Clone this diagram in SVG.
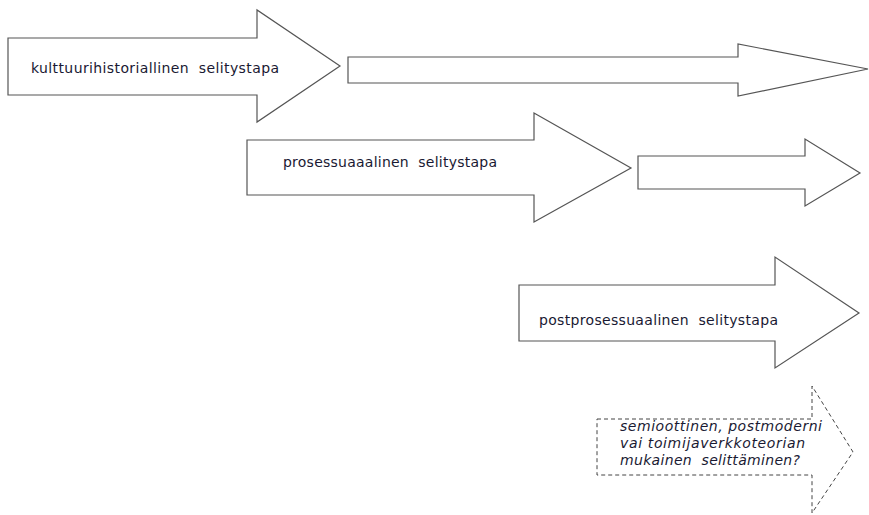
<svg xmlns="http://www.w3.org/2000/svg" width="869" height="515" viewBox="0 0 869 515">
<style>
.a{fill:#fff;stroke:#555;stroke-width:1.2;stroke-linejoin:miter}
.d{fill:#fff;stroke:#444;stroke-width:1;stroke-dasharray:4 3}
.t{font-family:"DejaVu Sans",Verdana,sans-serif;font-size:14px;fill:#1a1a33;white-space:pre}
.i{font-style:italic}
</style>
<rect width="869" height="515" fill="#fff"/>
<g id="arrow1">
<polygon class="a" points="8,38 257,38 257,10 340,66 257,122 257,95 8,95"/>
<text class="t" x="31" y="73" textLength="248" lengthAdjust="spacing" xml:space="preserve">kulttuurihistoriallinen  selitystapa</text>
</g>
<g id="arrow2">
<polygon class="a" points="348,57 738,57 738,44 868,69 738,96 738,83 348,83"/>
</g>
<g id="arrow3">
<polygon class="a" points="247,140 534,140 534,113 631,168 534,222 534,195 247,195"/>
<text class="t" x="283" y="167" textLength="214" lengthAdjust="spacing" xml:space="preserve">prosessuaaalinen  selitystapa</text>
</g>
<g id="arrow4">
<polygon class="a" points="638,156 805,156 805,139 860,173 805,206 805,189 638,189"/>
</g>
<g id="arrow5">
<polygon class="a" points="519,285 775,285 775,257 859,313 775,368 775,341 519,341"/>
<text class="t" x="539" y="325" textLength="239" lengthAdjust="spacing" xml:space="preserve">postprosessuaalinen  selitystapa</text>
</g>
<g id="arrow6">
<polygon class="d" points="597,419 812,419 812,386 853,452 812,513 812,475 597,475"/>
<text class="t i" x="620" y="431" textLength="202" lengthAdjust="spacing">semioottinen, postmoderni</text>
<text class="t i" x="620" y="448" textLength="185" lengthAdjust="spacing">vai toimijaverkkoteorian</text>
<text class="t i" x="620" y="465" textLength="180" lengthAdjust="spacing" xml:space="preserve">mukainen  selittäminen?</text>
</g>
</svg>
